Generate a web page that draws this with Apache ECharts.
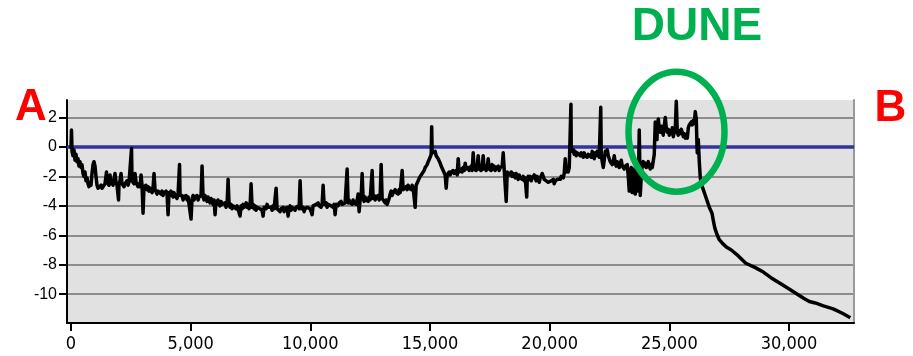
<!DOCTYPE html>
<html><head><meta charset="utf-8">
<script src="https://cdn.jsdelivr.net/npm/echarts@6/dist/echarts.min.js"></script>
<style>html,body{margin:0;padding:0;background:#fff}#c{width:913px;height:356px}</style>
</head><body><div id="c"></div>
<script>
const distance = [
0,21,42,84,125,167,209,251,293,334,
376,418,460,502,543,585,627,669,711,752,
794,836,878,920,961,1003,1045,1087,1129,1170,
1212,1254,1296,1338,1379,1421,1463,1484,1505,1547,
1588,1630,1672,1714,1756,1797,1839,1881,1923,1986,
2006,2048,2090,2132,2174,2215,2257,2299,2341,2383,
2424,2466,2529,2550,2592,2633,2675,2717,2759,2801,
2842,2884,2926,2968,3010,3051,3093,3135,3177,3219,
3260,3302,3344,3386,3428,3469,3511,3553,3595,3637,
3678,3720,3762,3804,3846,3887,3929,3971,4013,4055,
4096,4138,4180,4222,4264,4305,4347,4389,4431,4473,
4535,4556,4598,4640,4682,4723,4765,4807,4849,4891,
4932,4974,5016,5058,5100,5141,5183,5225,5267,5309,
5350,5392,5434,5476,5518,5559,5601,5643,5685,5727,
5768,5810,5852,5894,5936,5977,6019,6061,6103,6145,
6186,6228,6270,6312,6354,6395,6437,6479,6521,6563,
6604,6646,6688,6730,6772,6813,6855,6897,6939,6981,
7022,7064,7106,7148,7190,7231,7273,7315,7357,7399,
7440,7482,7524,7566,7608,7649,7691,7733,7775,7817,
7858,7900,7942,7984,8026,8067,8109,8151,8193,8235,
8276,8318,8360,8402,8444,8485,8527,8569,8611,8653,
8694,8736,8778,8820,8862,8903,8945,8987,9029,9071,
9112,9154,9196,9238,9280,9321,9363,9405,9447,9489,
9530,9572,9614,9656,9698,9739,9781,9823,9865,9907,
9948,9990,10032,10074,10116,10157,10199,10241,10283,10325,
10366,10408,10450,10492,10534,10575,10617,10659,10701,10743,
10784,10826,10868,10910,10952,10993,11035,11077,11119,11161,
11202,11244,11286,11328,11370,11411,11453,11495,11537,11579,
11620,11662,11704,11746,11788,11829,11871,11913,11955,11997,
12038,12080,12122,12164,12206,12247,12289,12331,12373,12415,
12456,12498,12540,12582,12624,12665,12707,12749,12791,12833,
12874,12916,12958,13000,13042,13083,13125,13167,13209,13251,
13292,13334,13376,13418,13460,13501,13543,13585,13627,13669,
13710,13752,13794,13836,13878,13919,13961,14003,14045,14087,
14128,14170,14212,14254,14296,14337,14379,14421,14463,14505,
14546,14588,14630,14672,14714,14755,14797,14839,14881,14923,
14964,15006,15048,15069,15090,15132,15173,15215,15257,15299,
15341,15382,15424,15466,15508,15550,15591,15633,15675,15717,
15759,15800,15842,15884,15926,15968,16009,16051,16093,16135,
16177,16218,16260,16302,16344,16386,16427,16469,16511,16553,
16595,16636,16678,16720,16762,16804,16845,16887,16929,16971,
17013,17054,17096,17138,17180,17222,17263,17305,17347,17389,
17431,17472,17514,17556,17598,17640,17681,17723,17765,17807,
17849,17890,17932,17974,18016,18058,18099,18141,18183,18225,
18267,18308,18350,18392,18434,18476,18517,18559,18601,18643,
18685,18726,18768,18810,18852,18894,18935,18977,19040,19061,
19103,19144,19186,19228,19270,19312,19353,19395,19437,19479,
19521,19562,19604,19646,19688,19730,19771,19813,19855,19897,
19939,19980,20022,20064,20106,20148,20189,20231,20273,20315,
20357,20398,20440,20482,20524,20566,20607,20649,20691,20733,
20775,20817,20858,20888,20900,20942,20984,21025,21067,21109,
21151,21193,21234,21276,21318,21360,21402,21443,21485,21527,
21569,21611,21652,21694,21736,21778,21820,21861,21903,21945,
21987,22029,22070,22133,22154,22196,22238,22279,22321,22363,
22405,22447,22488,22530,22572,22614,22656,22697,22739,22781,
22823,22865,22906,22948,22990,23032,23074,23115,23157,23199,
23241,23283,23324,23366,23408,23450,23492,23533,23575,23617,
23659,23701,23742,23784,23826,23868,23910,23951,23993,24035,
24077,24119,24160,24202,24244,24286,24328,24369,24411,24453,
24483,24495,24537,24578,24620,24662,24704,24746,24787,24829,
24871,24913,24955,24996,25038,25080,25122,25164,25205,25247,
25289,25331,25373,25414,25456,25498,25540,25582,25623,25665,
25707,25749,25791,25832,25874,25916,25958,26000,26041,26083,
26125,26154,26167,26209,26250,26292,26334,26418,26501,26585,
26668,26781,26836,26898,26978,27086,27220,27379,27588,27881,
28194,28591,28926,29260,29653,30054,30347,30627,30848,31099,
31434,31843,32228,32562
];
const elevation = [
-0.1,1.15,-0.3,-0.6,-0.2,-0.9,-0.5,-1.0,-0.8,-1.3,
-1.0,-1.4,-1.2,-1.8,-2.0,-1.7,-2.3,-2.1,-2.5,-2.7,
-2.4,-2.6,-1.8,-1.2,-1.0,-1.3,-2.0,-2.6,-2.8,-2.7,
-2.9,-2.6,-2.8,-2.7,-2.9,-2.5,-2.6,-1.7,-2.4,-2.3,
-2.6,-1.9,-2.5,-2.3,-2.6,-2.2,-1.8,-2.4,-2.6,-3.6,
-2.5,-2.3,-1.8,-2.5,-2.4,-2.7,-2.5,-2.6,-2.3,-2.6,
-2.4,-2.5,-0.1,-2.3,-2.2,-2.5,-1.8,-2.4,-2.3,-2.7,
-2.5,-2.7,-1.9,-2.6,-4.5,-2.7,-2.8,-2.6,-2.9,-2.7,
-3.0,-2.8,-2.9,-3.1,-2.8,-1.8,-2.9,-3.0,-3.2,-3.0,
-3.1,-2.9,-3.2,-3.0,-3.3,-3.1,-3.2,-3.0,-3.2,-4.6,
-3.1,-3.3,-3.0,-3.2,-3.4,-3.1,-3.3,-3.2,-3.5,-3.2,
-1.2,-3.3,-3.4,-3.3,-3.6,-3.4,-3.5,-3.3,-3.6,-3.4,
-3.5,-3.4,-4.9,-3.5,-3.3,-3.6,-3.4,-3.5,-3.3,-3.6,
-3.4,-3.5,-3.3,-1.3,-3.4,-3.6,-3.3,-3.5,-3.7,-3.4,
-3.6,-3.8,-3.5,-3.7,-3.9,-3.6,-4.6,-3.7,-3.9,-3.6,
-3.8,-4.0,-3.7,-3.9,-3.8,-4.0,-3.8,-4.1,-3.9,-2.2,
-3.9,-4.1,-3.9,-4.2,-4.0,-4.1,-3.9,-4.2,-4.0,-4.1,
-3.9,-4.7,-4.0,-4.2,-3.9,-4.1,-4.0,-3.8,-4.1,-3.9,
-4.2,-4.0,-2.5,-4.1,-3.9,-4.2,-4.0,-4.3,-4.1,-4.2,
-4.0,-4.2,-4.1,-4.3,-4.7,-4.1,-4.0,-4.2,-3.9,-4.1,
-4.0,-4.2,-4.1,-4.3,-4.0,-4.2,-4.1,-2.8,-4.2,-4.3,
-4.1,-4.4,-4.2,-4.3,-4.1,-4.4,-4.2,-4.3,-4.1,-4.7,
-4.2,-4.0,-4.3,-4.1,-4.2,-4.0,-4.3,-4.1,-4.2,-4.0,
-4.2,-2.3,-4.2,-4.3,-4.1,-4.4,-4.2,-4.3,-4.1,-4.2,
-4.0,-4.2,-4.1,-4.6,-4.0,-3.9,-4.1,-3.9,-4.0,-3.8,
-4.0,-3.9,-4.1,-3.9,-2.6,-3.9,-4.0,-3.8,-4.1,-3.9,
-4.0,-3.8,-4.0,-3.9,-4.1,-3.9,-4.6,-3.9,-3.8,-4.0,
-3.8,-3.9,-3.7,-3.9,-3.8,-4.0,-3.8,-3.9,-1.5,-3.8,
-3.6,-3.8,-3.7,-3.9,-3.6,-3.8,-3.7,-3.9,-3.6,-3.2,
-4.4,-3.6,-3.4,-1.8,-3.5,-3.7,-3.4,-3.6,-3.5,-3.7,
-3.4,-3.6,-3.5,-1.6,-3.5,-3.3,-3.6,-3.4,-3.5,-3.3,
-3.6,-3.4,-1.2,-3.5,-3.6,-3.4,-3.8,-3.6,-3.9,-4.0,
-3.5,-3.2,-3.0,-3.3,-3.1,-3.2,-2.9,-3.1,-3.0,-3.2,
-2.9,-3.1,-3.0,-1.6,-2.9,-2.8,-3.0,-2.7,-2.9,-2.6,
-2.8,-2.7,-2.9,-2.6,-2.8,-2.7,-4.1,-2.6,-2.5,-2.3,
-2.2,-2.0,-2.1,-1.8,-1.7,-1.6,-1.4,-1.5,-1.2,-1.0,
-0.9,-0.7,-0.5,1.38,-0.4,-0.3,-0.5,-0.3,-0.6,-0.5,
-0.8,-0.9,-1.1,-1.3,-1.4,-1.6,-1.7,-1.9,-2.8,-1.9,
-1.8,-1.7,-1.9,-1.7,-1.8,-1.6,-1.8,-1.7,-1.6,-1.9,
-0.8,-1.7,-1.6,-1.5,-1.7,-1.4,-1.6,-1.1,-1.5,-1.6,
-1.4,-1.6,-1.5,-1.3,-1.6,-0.4,-1.5,-1.4,-1.6,-1.3,
-0.6,-1.5,-1.4,-1.6,-1.3,-0.6,-1.5,-1.3,-1.6,-1.4,
-0.8,-1.5,-1.4,-1.6,-1.2,-1.5,-1.3,-1.6,-1.4,-1.5,
-1.3,-1.6,-1.4,-1.5,-1.3,-0.4,-1.5,-1.6,-3.7,-1.7,
-1.8,-1.6,-1.9,-1.7,-2.0,-1.8,-1.9,-2.1,-1.8,-2.0,
-2.2,-1.9,-2.1,-2.0,-2.2,-2.0,-2.3,-2.1,-3.4,-2.2,
-2.0,-2.2,-2.0,-2.3,-2.1,-2.2,-1.9,-2.1,-2.3,-2.0,
-2.2,-2.4,-2.1,-2.0,-1.8,-2.0,-2.2,-2.1,-2.3,-2.2,
-2.4,-2.3,-2.5,-2.3,-2.4,-2.2,-2.5,-2.3,-2.4,-2.2,
-2.3,-2.1,-2.2,-2.0,-1.9,-2.1,-1.8,-0.8,-1.7,-1.5,
-1.7,-1.4,-1.5,2.9,-0.3,-0.4,-0.2,-0.5,-0.3,-0.6,
-0.4,-0.5,-0.3,-0.6,-0.4,-0.5,-0.7,-0.4,-0.6,-0.5,
-0.7,-0.5,-0.6,-0.4,-0.7,-0.3,-0.5,-0.8,-0.4,-0.6,
-0.3,-0.5,-0.7,2.7,-0.6,-1.0,-1.4,-0.9,-0.3,-0.5,
-0.2,-0.6,-0.8,-1.0,-0.9,-1.2,-1.0,-0.6,-1.1,-1.3,
-1.0,-1.2,-1.4,-1.1,-0.9,-1.3,-1.2,-1.5,-1.3,-1.4,
-1.2,-2.0,-3.0,-1.8,-1.4,-3.1,-1.5,-2.0,-3.2,-1.6,
-2.4,-3.0,1.15,-3.3,-2.0,-1.2,-1.0,-1.3,-1.1,-1.4,
-1.2,-1.0,-1.3,-1.5,-1.2,-1.4,-1.3,-0.5,1.7,0.8,
0.5,1.2,1.9,1.3,1.0,1.4,1.1,0.8,1.5,2.0,
1.3,1.0,1.2,0.8,1.1,0.9,1.3,0.7,1.0,1.2,
3.1,1.0,0.8,1.1,0.9,1.2,1.0,0.7,0.9,0.6,
0.8,0.6,1.3,1.5,1.4,1.7,1.5,1.8,1.6,2.4,
1.9,0.1,-0.4,0.5,-1.0,-2.1,-2.5,-2.9,-3.3,-3.7,
-4.1,-4.5,-5.0,-5.5,-5.9,-6.3,-6.55,-6.8,-7.0,-7.4,
-7.9,-8.2,-8.5,-8.9,-9.3,-9.7,-10.0,-10.3,-10.5,-10.6,
-10.8,-11.0,-11.3,-11.6
];
const xTicks = [0, 5000, 10000, 15000, 20000, 25000, 30000];
const yTicks = [-10, -8, -6, -4, -2, 0, 2];
const xRange = [-167, 32714];
const yRange = [-11.96, 3.19];
const referenceLevel = 0;
const annotations = ['A', 'B', 'DUNE'];

const points = distance.map((d, i) => [d, elevation[i]]);
const chart = echarts.init(document.getElementById('c'), null, { renderer: 'canvas' });
const labelFont = '"Liberation Sans", Arial, sans-serif';
chart.setOption({
  animation: false,
  grid: { left: 67, right: 59, top: 100, bottom: 33, show: true, backgroundColor: '#e1e1e1', borderWidth: 0 },
  xAxis: {
    type: 'value', min: xRange[0], max: xRange[1],
    axisLine: { show: true, onZero: false, lineStyle: { color: '#000', width: 2 } },
    axisTick: { show: true, customValues: xTicks, length: 8, lineStyle: { color: '#000', width: 2 } },
    axisLabel: { customValues: xTicks, margin: 12, color: '#000',
      fontFamily: '"Liberation Sans Narrow", "DejaVu Sans Condensed", sans-serif', fontSize: 18,
      formatter: v => v.toLocaleString('en-US') },
    splitLine: { show: false }
  },
  yAxis: [{
    type: 'value', min: yRange[0], max: yRange[1],
    axisLine: { show: true, onZero: false, lineStyle: { color: '#000', width: 2 } },
    axisTick: { show: true, customValues: yTicks, length: 8, lineStyle: { color: '#000', width: 2 } },
    axisLabel: { customValues: yTicks, margin: 10, color: '#000', fontFamily: labelFont, fontSize: 16 },
    splitLine: { show: true, lineStyle: { color: '#8c8c8c', width: 2 } }
  }, {
    type: 'value', position: 'right', min: yRange[0], max: yRange[1],
    axisLine: { show: true, onZero: false, lineStyle: { color: '#9a9a9a', width: 2 } },
    axisTick: { show: false }, axisLabel: { show: false }, splitLine: { show: false }
  }],
  series: [{
    type: 'line', data: points, showSymbol: false, symbol: 'none', z: 3,
    lineStyle: { color: '#000', width: 3.5, join: 'round' },
    markLine: { silent: true, symbol: 'none', z: 2, label: { show: false },
      lineStyle: { color: '#333399', width: 3.5, type: 'solid' },
      data: [{ yAxis: referenceLevel }] }
  }],
  graphic: [
    { type: 'ellipse', z: 100, shape: { cx: 676.5, cy: 131.7, rx: 48, ry: 60 },
      style: { fill: 'none', stroke: '#00b050', lineWidth: 6.5 } },
    { type: 'text', z: 100, style: { text: annotations[0], x: 31, y: 108, font: 'bold 44px ' + labelFont, fill: '#ff0000', align: 'center', verticalAlign: 'middle' } },
    { type: 'text', z: 100, style: { text: annotations[1], x: 890.5, y: 109, font: 'bold 44px ' + labelFont, fill: '#ff0000', align: 'center', verticalAlign: 'middle' } },
    { type: 'text', z: 100, style: { text: annotations[2], x: 697, y: 27.5, font: 'bold 46px ' + labelFont, fill: '#00b050', align: 'center', verticalAlign: 'middle' } }
  ]
});
</script>
</body></html>
